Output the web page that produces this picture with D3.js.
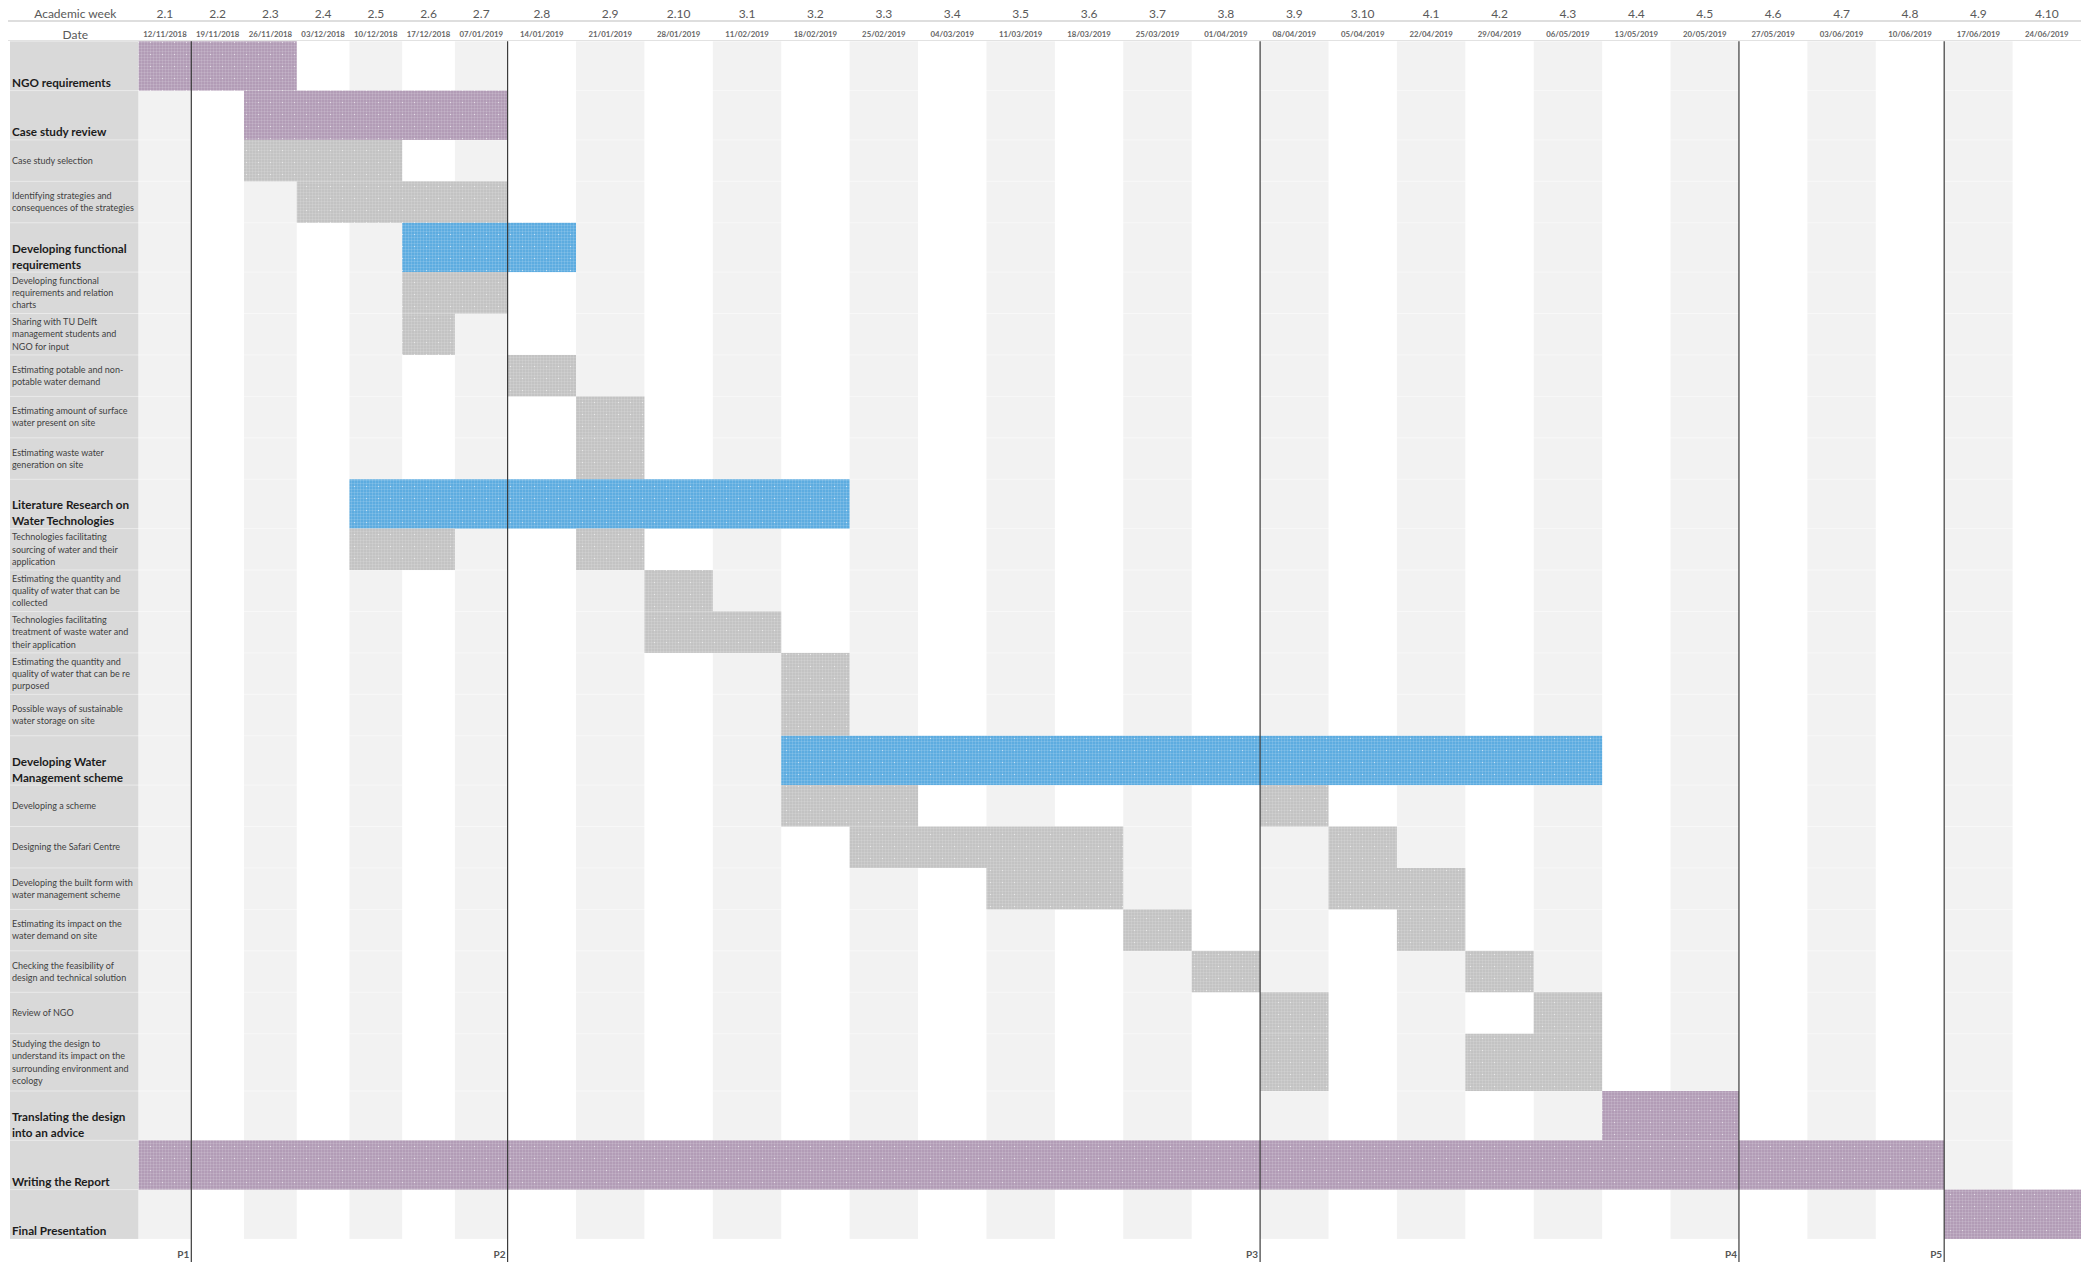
<!DOCTYPE html>
<html>
<head>
<meta charset="utf-8">
<title>Project planning</title>
<script src="https://cdn.jsdelivr.net/npm/d3@7"></script>
<style>
  html, body { margin: 0; padding: 0; background: #ffffff; }
  svg { display: block; font-family: Lato, "Open Sans", sans-serif; }
</style>
</head>
<body>
<svg id="chart" width="2089" height="1262"></svg>
<script>
// ---- data -------------------------------------------------------------
const weeks = [
  '2.1','2.2','2.3','2.4','2.5','2.6','2.7','2.8','2.9','2.10',
  '3.1','3.2','3.3','3.4','3.5','3.6','3.7','3.8','3.9','3.10',
  '4.1','4.2','4.3','4.4','4.5','4.6','4.7','4.8','4.9','4.10'
];
const weekDates = [
  '12/11/2018','19/11/2018','26/11/2018','03/12/2018','10/12/2018','17/12/2018','07/01/2019',
  '14/01/2019','21/01/2019','28/01/2019','11/02/2019','18/02/2019','25/02/2019','04/03/2019',
  '11/03/2019','18/03/2019','25/03/2019','01/04/2019','08/04/2019','05/04/2019','22/04/2019',
  '29/04/2019','06/05/2019','13/05/2019','20/05/2019','27/05/2019','03/06/2019','10/06/2019',
  '17/06/2019','24/06/2019'
];

// each task label is given as its wrapped lines
const taskLabels = [
  ['NGO requirements'],
  ['Case study review'],
  ['Case study selection'],
  ['Identifying strategies and', 'consequences of the strategies'],
  ['Developing functional', 'requirements'],
  ['Developing functional', 'requirements and relation', 'charts'],
  ['Sharing with TU Delft', 'management students and', 'NGO for input'],
  ['Estimating potable and non-', 'potable water demand'],
  ['Estimating amount of surface', 'water present on site'],
  ['Estimating waste water', 'generation on site'],
  ['Literature Research on', 'Water Technologies'],
  ['Technologies facilitating', 'sourcing of water and their', 'application'],
  ['Estimating the quantity and', 'quality of water that can be', 'collected'],
  ['Technologies facilitating', 'treatment of waste water and', 'their  application'],
  ['Estimating the quantity and', 'quality  of water that can be re', 'purposed'],
  ['Possible ways of sustainable', 'water storage on site'],
  ['Developing Water', 'Management scheme'],
  ['Developing a scheme'],
  ['Designing the Safari Centre'],
  ['Developing the built form with', 'water management scheme'],
  ['Estimating its impact on the', 'water demand on site'],
  ['Checking the feasibility of', 'design and technical solution'],
  ['Review of NGO'],
  ['Studying the design to', 'understand its impact on the', 'surrounding environment and', 'ecology'],
  ['Translating the design', 'into an advice'],
  ['Writing the Report'],
  ['Final Presentation']
];
const taskLevels = [
  'main','main','sub','sub','main','sub','sub','sub','sub','sub',
  'main','sub','sub','sub','sub','sub','main','sub','sub','sub',
  'sub','sub','sub','sub','main','main','main'
];

// scheduled weeks per task (first week, last week, kind)
const bars = [
  { task: 0,  from: '2.1',  to: '2.3',  kind: 'milestone' },
  { task: 1,  from: '2.3',  to: '2.7',  kind: 'milestone' },
  { task: 2,  from: '2.3',  to: '2.5',  kind: 'task' },
  { task: 3,  from: '2.4',  to: '2.7',  kind: 'task' },
  { task: 4,  from: '2.6',  to: '2.8',  kind: 'phase' },
  { task: 5,  from: '2.6',  to: '2.7',  kind: 'task' },
  { task: 6,  from: '2.6',  to: '2.6',  kind: 'task' },
  { task: 7,  from: '2.8',  to: '2.8',  kind: 'task' },
  { task: 8,  from: '2.9',  to: '2.9',  kind: 'task' },
  { task: 9,  from: '2.9',  to: '2.9',  kind: 'task' },
  { task: 10, from: '2.5',  to: '3.2',  kind: 'phase' },
  { task: 11, from: '2.5',  to: '2.6',  kind: 'task' },
  { task: 11, from: '2.9',  to: '2.9',  kind: 'task' },
  { task: 12, from: '2.10', to: '2.10', kind: 'task' },
  { task: 13, from: '2.10', to: '3.1',  kind: 'task' },
  { task: 14, from: '3.2',  to: '3.2',  kind: 'task' },
  { task: 15, from: '3.2',  to: '3.2',  kind: 'task' },
  { task: 16, from: '3.2',  to: '4.3',  kind: 'phase' },
  { task: 17, from: '3.2',  to: '3.3',  kind: 'task' },
  { task: 17, from: '3.9',  to: '3.9',  kind: 'task' },
  { task: 18, from: '3.3',  to: '3.6',  kind: 'task' },
  { task: 18, from: '3.10', to: '3.10', kind: 'task' },
  { task: 19, from: '3.5',  to: '3.6',  kind: 'task' },
  { task: 19, from: '3.10', to: '4.1',  kind: 'task' },
  { task: 20, from: '3.7',  to: '3.7',  kind: 'task' },
  { task: 20, from: '4.1',  to: '4.1',  kind: 'task' },
  { task: 21, from: '3.8',  to: '3.8',  kind: 'task' },
  { task: 21, from: '4.2',  to: '4.2',  kind: 'task' },
  { task: 22, from: '3.9',  to: '3.9',  kind: 'task' },
  { task: 22, from: '4.3',  to: '4.3',  kind: 'task' },
  { task: 23, from: '3.9',  to: '3.9',  kind: 'task' },
  { task: 23, from: '4.2',  to: '4.3',  kind: 'task' },
  { task: 24, from: '4.4',  to: '4.5',  kind: 'milestone' },
  { task: 25, from: '2.1',  to: '4.8',  kind: 'milestone' },
  { task: 26, from: '4.9',  to: '4.10', kind: 'milestone' }
];

// presentation moments, drawn at the end of the given week
const presentations = [
  { label: 'P1', after: '2.1' },
  { label: 'P2', after: '2.7' },
  { label: 'P3', after: '3.8' },
  { label: 'P4', after: '4.5' },
  { label: 'P5', after: '4.8' }
];

// ---- layout -----------------------------------------------------------
const svg = d3.select('#chart');
const labelLeft = 10, gridLeft = 138.6, gridRight = 2081;
const headerLine = 21, bodyTop = 41.3;

// the weeks before the Christmas break are narrower columns
const x = d3.scaleLinear()
  .domain([0, 7, weeks.length])
  .range([gridLeft, 507.6, gridRight]);
const weekIndex = new Map(weeks.map((w, i) => [w, i]));

// row heights follow the task level and label length
const rowHeight = (i) => taskLevels[i] === 'main' ? 49.3
  : (taskLabels[i].length > 3 ? 57.3 : 41.44);
const heights = taskLabels.map((_, i) => rowHeight(i));
const tops = [bodyTop, ...Array.from(d3.cumsum(heights), v => bodyTop + v)];
const yTop = d3.scaleOrdinal().domain(d3.range(taskLabels.length)).range(tops.slice(0, -1));
const yBottom = d3.scaleOrdinal().domain(d3.range(taskLabels.length)).range(tops.slice(1));
const bodyBottom = tops[tops.length - 1];

const fills = { milestone: '#b29cb6', phase: '#5dace0', task: '#c3c3c3' };

// ---- textured fills ---------------------------------------------------
const defs = svg.append('defs');
Object.entries(fills).forEach(([kind, color]) => {
  const p = defs.append('pattern')
    .attr('id', 'tex-' + kind)
    .attr('patternUnits', 'userSpaceOnUse')
    .attr('width', 12).attr('height', 12);
  p.append('rect').attr('width', 12).attr('height', 12).attr('fill', color);
  d3.range(0, 12, 3).forEach(v => {
    p.append('rect').attr('x', v).attr('y', 0).attr('width', 1).attr('height', 12)
      .attr('fill', '#ffffff').attr('opacity', 0.12);
    p.append('rect').attr('x', 0).attr('y', v).attr('width', 12).attr('height', 1)
      .attr('fill', '#ffffff').attr('opacity', 0.12);
  });
  p.append('rect').attr('x', 6).attr('y', 6).attr('width', 1).attr('height', 1)
    .attr('fill', '#ffffff').attr('opacity', 0.55);
});

// ---- header -----------------------------------------------------------
svg.append('text')
  .attr('x', (labelLeft + gridLeft) / 2 + 1).attr('y', 18)
  .attr('text-anchor', 'middle').attr('font-size', 12).attr('fill', '#595959')
  .text('Academic week');
svg.append('text')
  .attr('x', (labelLeft + gridLeft) / 2 + 1).attr('y', 38.5)
  .attr('text-anchor', 'middle').attr('font-size', 12).attr('fill', '#595959')
  .text('Date');

svg.append('g').selectAll('text').data(weeks).join('text')
  .attr('x', (d, i) => (x(i) + x(i + 1)) / 2).attr('y', 18)
  .attr('text-anchor', 'middle').attr('font-size', 12).attr('fill', '#595959')
  .text(d => d);
svg.append('g').selectAll('text').data(weekDates).join('text')
  .attr('x', (d, i) => (x(i) + x(i + 1)) / 2).attr('y', 37)
  .attr('text-anchor', 'middle').attr('font-size', 7.8).attr('font-weight', 700)
  .attr('fill', '#666666')
  .text(d => d);

svg.append('line')
  .attr('x1', 8).attr('x2', gridRight).attr('y1', headerLine).attr('y2', headerLine)
  .attr('stroke', '#bdbdbd').attr('stroke-width', 1);
svg.append('line')
  .attr('x1', 8).attr('x2', gridRight).attr('y1', bodyTop - 0.8).attr('y2', bodyTop - 0.8)
  .attr('stroke', '#e2e2e2').attr('stroke-width', 1.2);

// ---- background: label column and alternating week stripes ------------
svg.append('rect')
  .attr('x', labelLeft).attr('y', bodyTop)
  .attr('width', gridLeft - labelLeft).attr('height', bodyBottom - bodyTop)
  .attr('fill', '#d9d9d9');

svg.append('g').selectAll('rect')
  .data(weeks.filter((_, i) => i % 2 === 0))
  .join('rect')
  .attr('x', d => x(weekIndex.get(d)))
  .attr('width', d => x(weekIndex.get(d) + 1) - x(weekIndex.get(d)))
  .attr('y', bodyTop).attr('height', bodyBottom - bodyTop)
  .attr('fill', '#f2f2f2');

// faint row separators
svg.append('g').selectAll('line').data(tops.slice(1, -1)).join('line')
  .attr('x1', labelLeft).attr('x2', gridRight)
  .attr('y1', d => d).attr('y2', d => d)
  .attr('stroke', '#ffffff').attr('stroke-opacity', 0.45).attr('stroke-width', 1);

// ---- task bars --------------------------------------------------------
svg.append('g').selectAll('rect').data(bars).join('rect')
  .attr('x', d => x(weekIndex.get(d.from)))
  .attr('width', d => x(weekIndex.get(d.to) + 1) - x(weekIndex.get(d.from)))
  .attr('y', d => yTop(d.task))
  .attr('height', d => yBottom(d.task) - yTop(d.task))
  .attr('fill', d => `url(#tex-${d.kind})`);

// ---- task labels ------------------------------------------------------
const labels = svg.append('g').selectAll('text')
  .data(taskLabels.map((lines, i) => ({ lines, i, main: taskLevels[i] === 'main' })))
  .join('text')
  .attr('x', 12)
  .attr('font-size', d => d.main ? 11.7 : 9)
  .attr('font-weight', d => d.main ? 700 : 400)
  .attr('fill', d => d.main ? '#1c1c1c' : '#3f3f3f');

labels.each(function (d) {
  const t = d3.select(this);
  const n = d.lines.length;
  d.lines.forEach((line, k) => {
    let y;
    if (d.main) {
      y = yBottom(d.i) - 3.5 - (n - 1 - k) * 16;
    } else {
      const mid = (yTop(d.i) + yBottom(d.i)) / 2;
      y = mid + (k - (n - 1) / 2) * 12.2 + 3.2;
    }
    t.append('tspan').attr('x', 12).attr('y', y).text(line);
  });
});

// ---- presentation markers ----------------------------------------------
const pres = svg.append('g').selectAll('g').data(presentations).join('g');
pres.append('line')
  .attr('x1', d => x(weekIndex.get(d.after) + 1))
  .attr('x2', d => x(weekIndex.get(d.after) + 1))
  .attr('y1', bodyTop).attr('y2', 1262)
  .attr('stroke', '#3c3c3c').attr('stroke-width', 1.2);
pres.append('text')
  .attr('x', d => x(weekIndex.get(d.after) + 1) - 2)
  .attr('y', 1258)
  .attr('text-anchor', 'end').attr('font-size', 10).attr('font-weight', 700)
  .attr('fill', '#555555')
  .text(d => d.label);
</script>
</body>
</html>
